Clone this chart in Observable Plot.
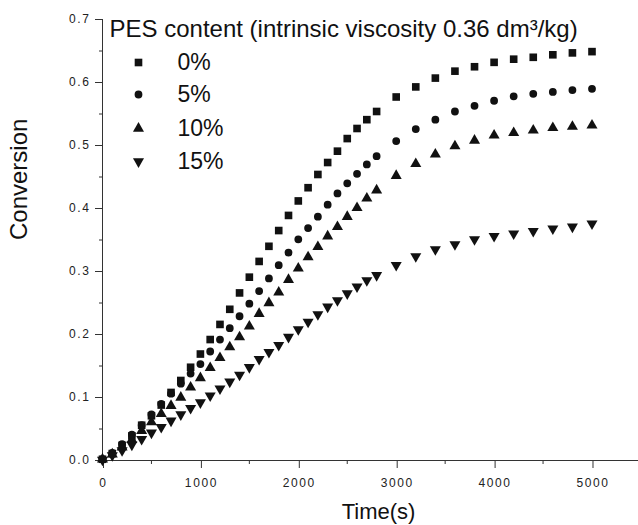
<!DOCTYPE html>
<html>
<head>
<meta charset="utf-8">
<script src="https://cdn.jsdelivr.net/npm/d3@7"></script>
<script src="https://cdn.jsdelivr.net/npm/@observablehq/plot@0.6"></script>
<style>
  html, body { margin: 0; padding: 0; background: #fff; }
  #chart { width: 638px; height: 525px; }
  #chart g[aria-label="x-axis tick label"] text,
  #chart g[aria-label="y-axis tick label"] text { letter-spacing: 1.6px; }
</style>
</head>
<body>
<div id="chart"></div>
<script>
// ---- data ----
const times = [0,100,200,300,400,500,600,700,800,900,1000,1100,1200,1300,1400,1500,1600,1700,1800,1900,2000,2100,2200,2300,2400,2500,2600,2700,2800,3000,3200,3400,3600,3800,4000,4200,4400,4600,4800,5000];

const pes0 = [0.002,0.011,0.024,0.039,0.056,0.071,0.088,0.108,0.127,0.148,0.169,0.192,0.216,0.240,0.266,0.291,0.316,0.340,0.365,0.389,0.412,0.433,0.454,0.473,0.491,0.511,0.527,0.541,0.554,0.577,0.593,0.607,0.618,0.625,0.632,0.637,0.640,0.644,0.647,0.649];
const pes5 = [0.002,0.012,0.026,0.041,0.056,0.073,0.090,0.106,0.122,0.138,0.153,0.173,0.192,0.210,0.229,0.249,0.269,0.289,0.310,0.330,0.351,0.369,0.387,0.406,0.424,0.440,0.455,0.470,0.483,0.507,0.526,0.541,0.554,0.563,0.571,0.578,0.582,0.585,0.588,0.590];
const pes10 = [0.002,0.010,0.021,0.033,0.047,0.061,0.074,0.087,0.100,0.116,0.131,0.147,0.163,0.180,0.196,0.213,0.233,0.250,0.267,0.287,0.305,0.323,0.339,0.356,0.371,0.387,0.401,0.416,0.429,0.452,0.471,0.486,0.499,0.508,0.516,0.520,0.524,0.528,0.530,0.532];
const pes15 = [0.001,0.008,0.016,0.025,0.034,0.044,0.053,0.063,0.073,0.083,0.092,0.103,0.114,0.125,0.136,0.148,0.161,0.172,0.183,0.196,0.208,0.220,0.232,0.244,0.254,0.265,0.276,0.286,0.294,0.310,0.324,0.335,0.343,0.351,0.356,0.360,0.364,0.368,0.371,0.376];

const seriesNames = ["0%", "5%", "10%", "15%"];
const legendTitle = "PES content (intrinsic viscosity 0.36 dm\u00B3/kg)";
const xMajorTicks = [0,1000,2000,3000,4000,5000];
const xMinorTicks = [500,1500,2500,3500,4500];
const yMajorTicks = [0,0.1,0.2,0.3,0.4,0.5,0.6,0.7];
const yMinorTicks = [0.05,0.15,0.25,0.35,0.45,0.55,0.65];

// ---- build ----
const seriesValues = [pes0, pes5, pes10, pes15];
const symbols = ["square", "circle", "triangle", "triangle"];
const rotations = [0, 0, 0, 180];
const radii = [4.3, 3.9, 4.1, 4.1];

const table = [];
seriesNames.forEach((name, i) => {
  times.forEach((t, j) => table.push({series: name, idx: i, time: t, conv: seriesValues[i][j]}));
});

const font = "'Liberation Sans', Arial, sans-serif";
const ink = "#111";

const dataMarks = seriesNames.map((name, i) =>
  Plot.dot(table.filter(d => d.idx === i), {
    x: "time", y: "conv", symbol: () => symbols[i], r: radii[i],
    fill: ink, stroke: "none", rotate: rotations[i]
  })
);

const legendRowDy = [43, 75, 109, 142];
const legendMarks = [
  Plot.text([legendTitle], {frameAnchor: "top-left", textAnchor: "start", lineAnchor: "middle",
    dx: 7, dy: 10, fontSize: 24, fill: ink})
];
seriesNames.forEach((name, i) => {
  legendMarks.push(Plot.dot([name], {frameAnchor: "top-left", dx: 36, dy: legendRowDy[i],
    symbol: () => symbols[i], r: radii[i], fill: ink, stroke: "none", rotate: rotations[i]}));
  legendMarks.push(Plot.text([name], {frameAnchor: "top-left", textAnchor: "start", lineAnchor: "middle",
    dx: 75, dy: legendRowDy[i], fontSize: 23, fill: ink}));
});

const chart = Plot.plot({
  width: 638, height: 525,
  marginLeft: 102, marginRight: 0, marginTop: 19, marginBottom: 65,
  style: {fontFamily: font, background: "#fff", color: ink},
  x: {domain: [0, 5475]},
  y: {domain: [0, 0.7]},
  marks: [
    Plot.axisX(xMajorTicks, {tickSize: 8, tickPadding: 10, fontSize: 12, label: null, stroke: "#333", fill: "#222", dx: 1, tickFormat: d => String(d)}),
    Plot.axisX(xMinorTicks, {tickSize: 4, label: null, stroke: "#333", tickFormat: () => ""}),
    Plot.axisY(yMajorTicks, {tickSize: 7, tickPadding: 5, fontSize: 12, label: null, stroke: "#333", fill: "#222", tickFormat: d3.format(".1f")}),
    Plot.axisY(yMinorTicks, {tickSize: 3, label: null, stroke: "#333", tickFormat: () => ""}),
    Plot.ruleX([0], {stroke: "#333", strokeWidth: 1}),
    Plot.ruleY([0], {stroke: "#333", strokeWidth: 1}),
    Plot.text(["Conversion"], {frameAnchor: "left", dx: -83, rotate: -90, fontSize: 24, fill: ink}),
    Plot.text(["Time(s)"], {frameAnchor: "bottom", dx: 8, dy: 58, fontSize: 22, fill: ink}),
    ...dataMarks,
    ...legendMarks
  ]
});
document.getElementById("chart").appendChild(chart);
</script>
</body>
</html>
